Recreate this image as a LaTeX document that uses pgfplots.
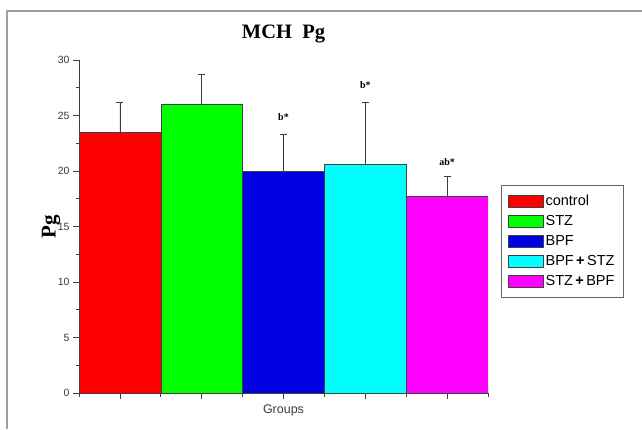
\documentclass[border=0pt]{standalone}
\usepackage{fontspec}
\setmainfont{Liberation Sans}
\newfontfamily\serifb{Liberation Serif}
\usepackage{pgfplots}
\pgfplotsset{compat=1.18}
\definecolor{cred}{RGB}{255,0,0}
\definecolor{cgreen}{RGB}{0,255,0}
\definecolor{cblue}{RGB}{0,0,225}
\definecolor{ccyan}{RGB}{0,255,255}
\definecolor{cmag}{RGB}{255,0,255}
\definecolor{tickgray}{RGB}{60,60,60}
\begin{document}
\begin{tikzpicture}
\useasboundingbox (0,0) rectangle (642pt,429pt);
\fill[white] (0,0) rectangle (642pt,429pt);
\draw[gray!75, line width=2pt] (7pt,0) -- (7pt,418pt) -- (642pt,418pt);
\begin{axis}[
  at={(79pt,36pt)}, anchor=south west,
  scale only axis, width=409pt, height=333pt,
  xmin=-0.5, xmax=4.5, ymin=0, ymax=30,
  axis x line*=bottom, axis y line*=left,
  axis line style={tickgray, line width=0.8pt},
  xtick={0,1,2,3,4}, xticklabels={},
  minor xtick={-0.5,0.5,1.5,2.5,3.5,4.5},
  ytick={0,5,...,30}, minor y tick num=1,
  tick align=outside,
  major tick length=6pt, minor tick length=3.5pt,
  tick style={tickgray, line width=0.8pt},
  every tick label/.append style={font=\fontsize{10.5}{12}\selectfont, text=tickgray},
  /pgf/number format/assume math mode=true,
  ybar, bar width=81.8pt,
  title={\serifb\bfseries\fontsize{20.5}{24}\selectfont MCH~~Pg},
  title style={at={(rel axis cs:0.5,1)}, yshift=20pt, anchor=center},
  ylabel={\serifb\bfseries\fontsize{21}{24}\selectfont Pg},
  ylabel style={at={(rel axis cs:0,0.5)}, yshift=28pt, anchor=center},
  xlabel={Groups},
  xlabel style={at={(rel axis cs:0.5,0)}, yshift=-17pt, anchor=center, font=\fontsize{12.5}{14}\selectfont, text=tickgray},
  legend style={at={(rel axis cs:1.032,0.6246)}, anchor=north west,
    draw=gray!80!black, line width=0.8pt, font=\fontsize{14.5}{16}\selectfont,
    inner xsep=6.5pt, inner ysep=8pt, row sep=4.4pt, cells={anchor=west}},
  legend image code/.code={\draw[#1, line width=0.6pt] (0pt,-6pt) rectangle (35pt,6pt);},
  error bars/y dir=plus, error bars/y explicit,
  error bars/error bar style={tickgray, line width=0.8pt},
  error bars/error mark options={rotate=90, mark size=3.5pt, tickgray, line width=0.8pt},
]
\addplot[fill=cred, draw=gray!50!black, bar shift=0pt] coordinates {(0,23.5) +- (0,2.7)};
\addplot[fill=cgreen, draw=gray!50!black, bar shift=0pt] coordinates {(1,26.0) +- (0,2.7)};
\addplot[fill=cblue, draw=gray!50!black, bar shift=0pt] coordinates {(2,20.0) +- (0,3.3)};
\addplot[fill=ccyan, draw=gray!50!black, bar shift=0pt] coordinates {(3,20.6) +- (0,5.6)};
\addplot[fill=cmag, draw=gray!50!black, bar shift=0pt] coordinates {(4,17.7) +- (0,1.8)};
\legend{control, STZ, BPF, BPF\,\textbf{+}\,STZ, STZ\,\textbf{+}\,BPF}
\node[font=\serifb\bfseries\fontsize{10}{11}\selectfont] at (axis cs:2,24.9) {b*};
\node[font=\serifb\bfseries\fontsize{10}{11}\selectfont] at (axis cs:3,27.7) {b*};
\node[font=\serifb\bfseries\fontsize{10}{11}\selectfont] at (axis cs:4,20.8) {ab*};
\end{axis}
\end{tikzpicture}
\end{document}
